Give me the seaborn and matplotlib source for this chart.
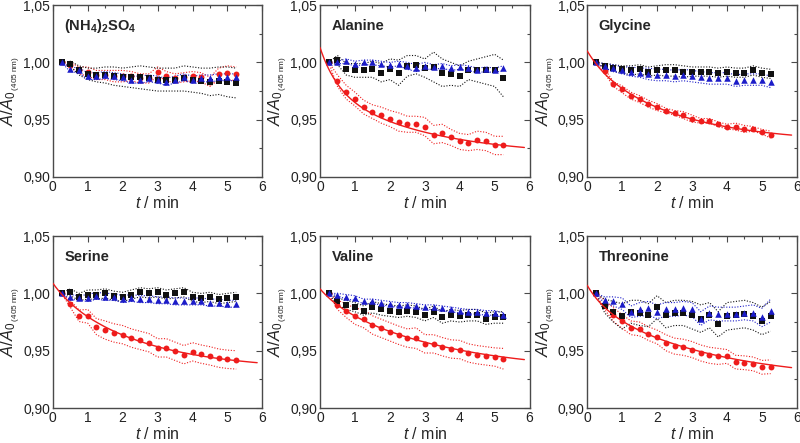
import numpy as np
import pandas as pd
import seaborn as sns
import matplotlib
matplotlib.use("Agg")
import matplotlib.pyplot as plt
from matplotlib.ticker import MultipleLocator, FuncFormatter

# ---- data ----
t = [0.25, 0.5, 0.75, 1.0, 1.25, 1.5, 1.75, 2.0, 2.25, 2.5, 2.75,
     3.0, 3.25, 3.5, 3.75, 4.0, 4.25, 4.5, 4.75, 5.0, 5.25]

panel_titles = [r"(NH$_\mathbf{4}$)$_\mathbf{2}$SO$_\mathbf{4}$", "Alanine", "Glycine",
                "Serine", "Valine", "Threonine"]

# (NH4)2SO4
nh4_red = [1.000, 0.998, 0.993, 0.992, 0.989, 0.989, 0.988, 0.988, 0.988, 0.986, 0.986,
           0.992, 0.988, 0.986, 0.987, 0.988, 0.987, 0.983, 0.990, 0.991, 0.990]
nh4_red_sd = [0, 0.002, 0.003, 0.004, 0.004, 0.004, 0.005, 0.005, 0.004, 0.004, 0.004,
              0.004, 0.004, 0.004, 0.004, 0.004, 0.004, 0.004, 0.005, 0.006, 0.006]
nh4_black = [1.000, 0.999, 0.993, 0.990, 0.989, 0.989, 0.988, 0.987, 0.987, 0.987, 0.986,
             0.985, 0.985, 0.985, 0.986, 0.985, 0.984, 0.983, 0.984, 0.983, 0.982]
nh4_black_sd = [0, 0.002, 0.004, 0.005, 0.006, 0.007, 0.008, 0.008, 0.009, 0.010, 0.010,
                0.010, 0.010, 0.010, 0.011, 0.011, 0.011, 0.012, 0.012, 0.013, 0.013]
nh4_blue = [1.000, 0.994, 0.993, 0.988, 0.988, 0.989, 0.988, 0.987, 0.985, 0.985, 0.986,
            0.985, 0.983, 0.985, 0.987, 0.985, 0.986, 0.986, 0.987, 0.987, 0.987]
nh4_blue_sd = [0, 0.002, 0.002, 0.003, 0.003, 0.003, 0.003, 0.003, 0.003, 0.003, 0.003,
               0.003, 0.003, 0.003, 0.003, 0.003, 0.003, 0.003, 0.003, 0.003, 0.003]

# Alanine
ala_red = [1.000, 0.984, 0.974, 0.968, 0.961, 0.957, 0.954, 0.951, 0.948, 0.946, 0.946,
           0.944, 0.937, 0.938, 0.9345, 0.931, 0.930, 0.932, 0.931, 0.9275, 0.9275]
ala_red_sd = [0, 0.005, 0.006, 0.006, 0.006, 0.006, 0.007, 0.007, 0.008, 0.007, 0.007,
              0.008, 0.008, 0.008, 0.007, 0.007, 0.007, 0.008, 0.008, 0.008, 0.008]
ala_black = [1.000, 1.002, 0.994, 0.993, 0.993, 0.994, 0.991, 0.994, 0.991, 0.997, 0.998,
             0.995, 0.996, 0.991, 0.990, 0.988, 0.993, 0.993, 0.993, 0.993, 0.986]
ala_black_sd = [0, 0.004, 0.005, 0.006, 0.006, 0.007, 0.008, 0.009, 0.011, 0.009, 0.008,
                0.008, 0.013, 0.012, 0.010, 0.009, 0.008, 0.010, 0.012, 0.014, 0.016]
ala_blue = [1.000, 1.000, 1.001, 0.999, 1.000, 1.000, 0.999, 0.998, 0.999, 0.997, 0.995,
            0.997, 0.996, 0.997, 0.995, 0.996, 0.995, 0.993, 0.994, 0.993, 0.995]
ala_blue_sd = [0, 0.001, 0.002, 0.002, 0.002, 0.002, 0.002, 0.002, 0.002, 0.003, 0.003,
               0.003, 0.002, 0.002, 0.002, 0.002, 0.002, 0.002, 0.002, 0.002, 0.002]

# Glycine
gly_red = [1.000, 0.9925, 0.981, 0.9765, 0.971, 0.968, 0.964, 0.961, 0.958, 0.956, 0.954,
           0.951, 0.949, 0.949, 0.946, 0.944, 0.944, 0.942, 0.942, 0.9395, 0.937]
gly_red_sd = [0, 0.002, 0.002, 0.003, 0.003, 0.003, 0.003, 0.003, 0.002, 0.002, 0.003,
              0.003, 0.002, 0.002, 0.002, 0.002, 0.003, 0.003, 0.002, 0.002, 0.003]
gly_black = [1.000, 0.997, 0.995, 0.994, 0.993, 0.994, 0.992, 0.993, 0.993, 0.993, 0.992,
             0.992, 0.992, 0.992, 0.991, 0.992, 0.991, 0.991, 0.993, 0.991, 0.990]
gly_black_sd = [0, 0.002, 0.003, 0.003, 0.004, 0.004, 0.004, 0.004, 0.005, 0.005, 0.005,
                0.004, 0.004, 0.004, 0.004, 0.004, 0.004, 0.004, 0.004, 0.004, 0.004]
gly_blue = [1.000, 0.997, 0.995, 0.993, 0.992, 0.991, 0.990, 0.989, 0.989, 0.988, 0.989,
            0.988, 0.987, 0.986, 0.986, 0.986, 0.984, 0.985, 0.985, 0.985, 0.983]
gly_blue_sd = [0, 0.002, 0.003, 0.003, 0.004, 0.004, 0.005, 0.005, 0.005, 0.005, 0.005,
               0.005, 0.005, 0.005, 0.005, 0.005, 0.005, 0.005, 0.005, 0.005, 0.005]

# Serine
ser_red = [1.000, 0.991, 0.9805, 0.980, 0.971, 0.968, 0.9655, 0.964, 0.961, 0.959, 0.957,
           0.9525, 0.9525, 0.9495, 0.9465, 0.949, 0.947, 0.9455, 0.9435, 0.9425, 0.942]
ser_red_sd = [0, 0.003, 0.005, 0.006, 0.007, 0.008, 0.008, 0.008, 0.008, 0.008, 0.008,
              0.008, 0.008, 0.008, 0.008, 0.008, 0.008, 0.008, 0.008, 0.008, 0.008]
ser_black = [1.000, 1.001, 0.997, 0.999, 0.999, 1.000, 0.998, 0.997, 0.999, 1.001, 1.000,
             1.001, 0.999, 1.000, 1.001, 0.997, 0.996, 0.997, 0.995, 0.996, 0.997]
ser_black_sd = [0, 0.003, 0.003, 0.004, 0.004, 0.004, 0.004, 0.004, 0.004, 0.004, 0.004,
                0.004, 0.004, 0.004, 0.004, 0.004, 0.004, 0.004, 0.004, 0.004, 0.004]
ser_blue = [1.000, 0.997, 0.996, 0.996, 0.998, 0.997, 0.997, 0.995, 0.996, 0.995, 0.995,
            0.994, 0.994, 0.993, 0.993, 0.993, 0.993, 0.992, 0.992, 0.991, 0.991]
ser_blue_sd = [0, 0.002, 0.002, 0.003, 0.003, 0.003, 0.003, 0.003, 0.003, 0.003, 0.003,
               0.003, 0.003, 0.003, 0.003, 0.003, 0.003, 0.003, 0.003, 0.003, 0.003]

# Valine
val_red = [1.000, 0.990, 0.985, 0.980, 0.978, 0.9725, 0.9695, 0.9665, 0.9635, 0.961, 0.961,
           0.956, 0.956, 0.9535, 0.9515, 0.951, 0.948, 0.9465, 0.9455, 0.9445, 0.943]
val_red_sd = [0, 0.004, 0.006, 0.007, 0.008, 0.008, 0.008, 0.008, 0.008, 0.008, 0.009,
              0.008, 0.008, 0.008, 0.008, 0.008, 0.008, 0.008, 0.008, 0.008, 0.009]
val_black = [1.000, 0.993, 0.990, 0.988, 0.985, 0.988, 0.986, 0.985, 0.984, 0.985, 0.984,
             0.981, 0.984, 0.979, 0.981, 0.980, 0.981, 0.981, 0.978, 0.979, 0.979]
val_black_sd = [0, 0.003, 0.004, 0.004, 0.004, 0.005, 0.005, 0.005, 0.005, 0.005, 0.005,
                0.005, 0.005, 0.005, 0.005, 0.005, 0.005, 0.005, 0.005, 0.005, 0.005]
val_blue = [1.000, 0.999, 0.997, 0.996, 0.993, 0.993, 0.992, 0.991, 0.990, 0.990, 0.989,
            0.988, 0.988, 0.987, 0.986, 0.985, 0.984, 0.984, 0.983, 0.983, 0.981]
val_blue_sd = [0, 0.001, 0.002, 0.002, 0.002, 0.002, 0.002, 0.002, 0.002, 0.002, 0.002,
               0.002, 0.002, 0.002, 0.002, 0.002, 0.002, 0.002, 0.002, 0.002, 0.002]

# Threonine
thr_red = [1.000, 0.990, 0.9815, 0.9755, 0.970, 0.969, 0.965, 0.962, 0.957, 0.954, 0.953,
           0.951, 0.948, 0.946, 0.945, 0.945, 0.940, 0.9395, 0.9385, 0.9355, 0.936]
thr_red_sd = [0, 0.004, 0.006, 0.006, 0.006, 0.006, 0.006, 0.006, 0.007, 0.007, 0.007,
              0.007, 0.007, 0.007, 0.007, 0.006, 0.006, 0.006, 0.006, 0.006, 0.006]
thr_black = [1.000, 0.989, 0.984, 0.980, 0.984, 0.983, 0.981, 0.988, 0.981, 0.983, 0.983,
             0.981, 0.978, 0.981, 0.973, 0.980, 0.981, 0.982, 0.980, 0.976, 0.980]
thr_black_sd = [0, 0.006, 0.009, 0.011, 0.010, 0.011, 0.010, 0.010, 0.011, 0.011, 0.011,
                0.012, 0.012, 0.011, 0.011, 0.012, 0.012, 0.012, 0.012, 0.012, 0.013]
thr_blue = [1.000, 0.994, 0.993, 0.991, 0.984, 0.986, 0.987, 0.984, 0.986, 0.986, 0.987,
            0.986, 0.978, 0.983, 0.982, 0.982, 0.982, 0.983, 0.983, 0.979, 0.985]
thr_blue_sd = [0, 0.003, 0.004, 0.005, 0.005, 0.006, 0.006, 0.006, 0.006, 0.006, 0.006,
               0.006, 0.006, 0.006, 0.006, 0.006, 0.006, 0.006, 0.007, 0.008, 0.010]

# fitted decay parameters for the red series: c + a1*exp(-k1 t) + a2*exp(-k2 t)
fit_params = [None,
              (0.918, 0.035, 2.0, 0.060, 0.35),
              (0.930, 0.012, 2.0, 0.068, 0.40),
              (0.933, 0.008, 2.0, 0.068, 0.40),
              (0.931, 0.008, 2.0, 0.065, 0.30),
              (0.9235, 0.0155, 2.0, 0.068, 0.30)]
fit_tmax = 5.85

panels = [
    (nh4_red, nh4_red_sd, nh4_black, nh4_black_sd, nh4_blue, nh4_blue_sd),
    (ala_red, ala_red_sd, ala_black, ala_black_sd, ala_blue, ala_blue_sd),
    (gly_red, gly_red_sd, gly_black, gly_black_sd, gly_blue, gly_blue_sd),
    (ser_red, ser_red_sd, ser_black, ser_black_sd, ser_blue, ser_blue_sd),
    (val_red, val_red_sd, val_black, val_black_sd, val_blue, val_blue_sd),
    (thr_red, thr_red_sd, thr_black, thr_black_sd, thr_blue, thr_blue_sd),
]

# ---- style ----
sns.set_style("white")
plt.rcParams["font.family"] = ["Liberation Sans", "DejaVu Sans"]
plt.rcParams["mathtext.fontset"] = "custom"
plt.rcParams["mathtext.rm"] = "Liberation Sans"
plt.rcParams["mathtext.it"] = "Liberation Sans:italic"
plt.rcParams["mathtext.bf"] = "Liberation Sans:bold"

red, black, blue = "#ee1c1c", "#111111", "#1c1cc8"
spine_col = "#4a4a4a"

fig = plt.figure(figsize=(8, 4.43), dpi=100)
lefts = [0.066, 0.40, 0.734]
bottoms = [0.6005, 0.079]
w, h = 0.262, 0.388

ylab = r"$\mathit{A}/\mathit{A}_{0\,{}_{\mathrm{(405\ nm)}}}$"

for i, (rd, rsd, bk, bsd, bl, blsd) in enumerate(panels):
    ax = fig.add_axes([lefts[i % 3], bottoms[i // 3], w, h])
    series = [("red", rd, rsd, red, "o", 18), ("black", bk, bsd, black, "s", 15),
              ("blue", bl, blsd, blue, "^", 22)]
    for name, y, sd, col, mk, sz in series:
        y = np.array(y)
        sd = np.array(sd)
        df = pd.DataFrame({"t": t, "y": y, "lo": y - sd, "hi": y + sd})
        sns.lineplot(data=df, x="t", y="hi", ax=ax, color=col, lw=0.8, ls=(0, (1, 1.5)))
        sns.lineplot(data=df, x="t", y="lo", ax=ax, color=col, lw=0.8, ls=(0, (1, 1.5)))
    for name, y, sd, col, mk, sz in series:
        df = pd.DataFrame({"t": t, "y": y})
        sns.scatterplot(data=df, x="t", y="y", ax=ax, color=col, marker=mk, s=sz,
                        linewidth=0, zorder=3)
    if fit_params[i] is not None:
        c, a1, k1, a2, k2 = fit_params[i]
        tf = np.linspace(0, fit_tmax, 200)
        dff = pd.DataFrame({"t": tf, "y": c + a1 * np.exp(-k1 * tf) + a2 * np.exp(-k2 * tf)})
        sns.lineplot(data=dff, x="t", y="y", ax=ax, color=red, lw=1.0, zorder=4)

    ax.set_xlim(0, 6)
    ax.set_ylim(0.90, 1.05)
    ax.xaxis.set_major_locator(MultipleLocator(1))
    ax.xaxis.set_minor_locator(MultipleLocator(0.5))
    ax.yaxis.set_major_locator(MultipleLocator(0.05))
    ax.yaxis.set_minor_locator(MultipleLocator(0.025))
    ax.yaxis.set_major_formatter(FuncFormatter(lambda v, p: f"{v:.2f}".replace(".", ",")))
    ax.xaxis.set_major_formatter(FuncFormatter(lambda v, p: f"{v:.0f}"))
    ax.tick_params(which="both", direction="in", top=True, right=True, colors=spine_col,
                   labelcolor="#222222", labelsize=10, pad=2)
    ax.tick_params(which="major", length=4, width=0.8)
    ax.tick_params(which="minor", length=2, width=0.8)
    for s in ax.spines.values():
        s.set_color(spine_col)
        s.set_linewidth(1.0)
    ax.set_xlabel(r"$\mathit{t}$ / min", fontsize=11.5, labelpad=1)
    ax.set_ylabel(ylab, fontsize=12, labelpad=0)
    ax.text(0.055, 0.88, panel_titles[i], transform=ax.transAxes, fontsize=10.5,
            fontweight="bold", va="center", ha="left")

fig.savefig("out.png", dpi=100)
